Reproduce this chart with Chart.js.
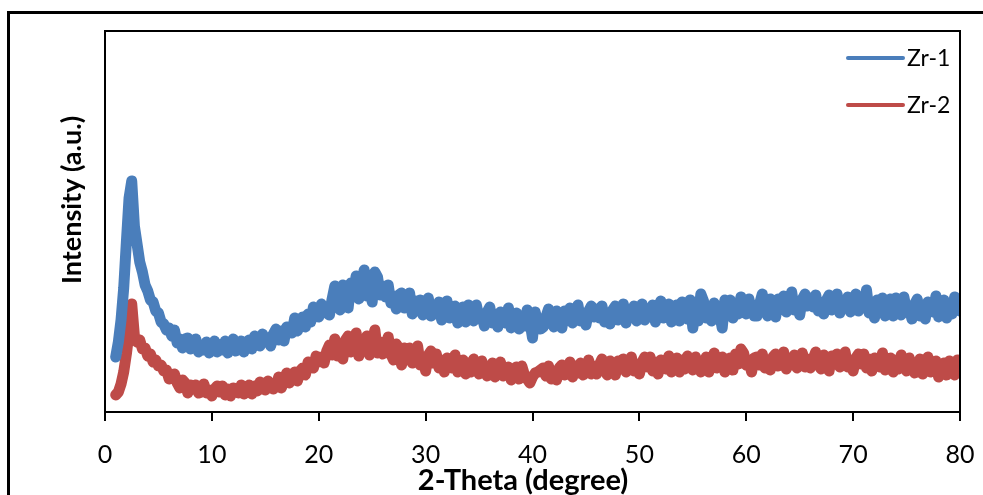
<!DOCTYPE html>
<html>
<head>
<meta charset="utf-8">
<title>XRD patterns Zr-1 / Zr-2</title>
<script src="https://cdn.jsdelivr.net/npm/chart.js@4.4.1/dist/chart.umd.min.js"></script>
<style>
  html, body { margin: 0; padding: 0; background: #fff; overflow: hidden; }
  #wrap { position: relative; width: 983px; height: 495px; }
  #frame {
    position: absolute; left: 7px; top: 11px; width: 1200px; height: 800px;
    border-left: 3px solid #000; border-top: 3px solid #000;
  }
  #chart { position: absolute; left: 0; top: 0; }
</style>
</head>
<body>
<div id="wrap">
  <div id="frame"></div>
  <canvas id="chart" width="983" height="495"></canvas>
</div>
<script>
// scan: 2-theta from 1 to 80 degrees, 0.25 degree step
const thetaStart = 1;
const thetaStep = 0.25;
const xTicks = [0, 10, 20, 30, 40, 50, 60, 70, 80];
const seriesNames = ['Zr-1', 'Zr-2'];
const seriesColors = ['#4a7ebb', '#be4b48'];
const xTitle = '2-Theta (degree)';
const yTitle = 'Intensity (a.u.)';

// intensity (a.u.), one row per 5 degrees
const zr1 = [
  55, 70, 92, 124, 170, 214, 231, 186, 168, 150, 140, 127, 121, 112, 110, 101, 99, 90, 88, 82,
  84, 76, 82, 69, 73, 64, 73, 74, 63, 65, 73, 60, 67, 62, 70, 59, 65, 71, 60, 67,
  62, 71, 59, 67, 73, 61, 65, 71, 60, 70, 72, 63, 76, 68, 66, 78, 70, 74, 66, 78,
  83, 72, 81, 71, 85, 83, 79, 94, 81, 87, 95, 85, 98, 90, 105, 97, 95, 108, 101, 99,
  97, 113, 126, 107, 102, 127, 124, 104, 129, 120, 136, 113, 119, 142, 116, 127, 110, 140, 135, 117,
  126, 115, 127, 109, 116, 103, 117, 119, 104, 107, 119, 98, 111, 101, 112, 97, 104, 114, 96, 105,
  98, 110, 92, 103, 111, 94, 99, 106, 89, 102, 105, 90, 107, 96, 91, 107, 94, 98, 86, 100,
  105, 89, 98, 85, 100, 95, 89, 104, 84, 90, 99, 83, 96, 86, 102, 91, 74, 100, 89, 83,
  85, 95, 103, 90, 85, 101, 98, 84, 101, 94, 104, 89, 93, 107, 91, 99, 87, 101, 106, 95,
  103, 94, 106, 90, 99, 88, 102, 106, 92, 96, 108, 89, 102, 95, 106, 91, 99, 108, 92, 101,
  95, 107, 90, 101, 111, 94, 99, 108, 90, 103, 107, 91, 110, 99, 93, 112, 84, 103, 91, 118,
  111, 94, 105, 91, 109, 104, 99, 84, 112, 102, 112, 94, 108, 98, 115, 103, 98, 113, 102, 96,
  96, 108, 118, 101, 96, 113, 111, 95, 113, 106, 116, 100, 103, 120, 102, 110, 97, 113, 118, 106,
  114, 105, 117, 101, 109, 98, 112, 117, 102, 106, 118, 99, 111, 104, 115, 100, 108, 118, 101, 110,
  104, 122, 99, 109, 94, 112, 106, 114, 96, 109, 113, 96, 114, 103, 97, 115, 101, 105, 93, 108,
  113, 96, 107, 93, 110, 105, 100, 116, 95, 102, 112, 94, 108, 98, 115, 103, 101
];

const zr2 = [
  17, 20, 28, 40, 58, 80, 108, 76, 70, 72, 63, 64, 56, 58, 50, 52, 46, 47, 41, 42,
  33, 36, 38, 29, 24, 32, 29, 19, 27, 23, 27, 19, 20, 28, 19, 22, 16, 23, 26, 20,
  26, 17, 23, 16, 24, 22, 19, 27, 18, 21, 27, 18, 26, 21, 30, 24, 22, 31, 25, 23,
  26, 35, 24, 32, 39, 29, 33, 40, 31, 41, 44, 37, 50, 45, 44, 56, 50, 55, 49, 61,
  67, 57, 73, 56, 66, 53, 72, 76, 60, 64, 79, 56, 71, 61, 76, 57, 68, 82, 59, 70,
  58, 67, 75, 58, 52, 68, 64, 47, 64, 56, 64, 49, 51, 66, 47, 55, 41, 57, 61, 49,
  58, 44, 52, 40, 54, 50, 44, 57, 40, 45, 52, 38, 49, 40, 53, 44, 38, 51, 41, 36,
  39, 49, 35, 44, 50, 36, 40, 45, 32, 43, 45, 33, 46, 37, 33, 29, 35, 39, 40, 42,
  44, 36, 46, 33, 41, 32, 44, 47, 37, 40, 50, 35, 46, 39, 49, 37, 44, 52, 38, 46,
  38, 47, 53, 41, 37, 51, 49, 37, 51, 45, 53, 40, 43, 55, 41, 48, 38, 50, 55, 45,
  55, 41, 50, 38, 52, 48, 43, 56, 40, 45, 54, 40, 52, 43, 56, 47, 42, 55, 45, 40,
  44, 55, 40, 50, 59, 44, 48, 55, 40, 52, 54, 42, 58, 48, 63, 59, 47, 51, 40, 54,
  55, 47, 58, 44, 52, 42, 55, 58, 46, 49, 60, 43, 54, 47, 57, 44, 51, 59, 45, 53,
  44, 53, 60, 47, 43, 57, 54, 41, 56, 50, 58, 45, 47, 60, 45, 52, 41, 54, 58, 48,
  58, 44, 53, 41, 54, 50, 45, 59, 42, 47, 54, 40, 52, 43, 57, 47, 41, 54, 44, 39,
  42, 53, 38, 48, 55, 40, 44, 51, 35, 47, 49, 37, 51, 41, 37, 52, 39
];

const toPoints = vals => vals.map((v, i) => ({ x: thetaStart + i * thetaStep, y: v }));

const FONT = 'Lato, "Open Sans", sans-serif';
Chart.defaults.font.family = FONT;
Chart.defaults.color = '#000';

// box around the plot area
const plotFrame = {
  id: 'plotFrame',
  afterDraw(chart) {
    const { ctx, chartArea: a } = chart;
    ctx.save();
    ctx.strokeStyle = '#000';
    ctx.lineWidth = 2;
    ctx.strokeRect(a.left, a.top, a.right - a.left, a.bottom - a.top);
    ctx.restore();
  }
};

// axis titles, placed by hand
const axisTitles = {
  id: 'axisTitles',
  afterDraw(chart) {
    const { ctx } = chart;
    ctx.save();
    ctx.fillStyle = '#000';
    ctx.textAlign = 'center';
    ctx.textBaseline = 'middle';
    ctx.font = 'bold 29px ' + FONT;
    ctx.fillText(xTitle, 523, 481);
    ctx.translate(72, 200);
    ctx.rotate(-Math.PI / 2);
    ctx.font = 'bold 27px ' + FONT;
    ctx.fillText(yTitle, 0, 0);
    ctx.restore();
  }
};

// legend drawn inside the plot, top right
const insideLegend = {
  id: 'insideLegend',
  afterDraw(chart) {
    const { ctx, chartArea: a } = chart;
    ctx.save();
    ctx.font = '23px ' + FONT;
    ctx.textBaseline = 'middle';
    chart.data.datasets.forEach((ds, i) => {
      const y = a.top + 27 + i * 47;
      const x0 = a.right - 112;
      ctx.strokeStyle = ds.borderColor;
      ctx.lineWidth = 4;
      ctx.lineCap = 'round';
      ctx.beginPath();
      ctx.moveTo(x0, y);
      ctx.lineTo(x0 + 55, y);
      ctx.stroke();
      ctx.fillStyle = '#000';
      ctx.fillText(ds.label, x0 + 59, y + 1);
    });
    ctx.restore();
  }
};

const lineStyle = {
  borderWidth: 11,
  pointRadius: 0,
  tension: 0,
  borderJoinStyle: 'round',
  borderCapStyle: 'round'
};

new Chart(document.getElementById('chart'), {
  type: 'line',
  data: {
    datasets: [
      { label: seriesNames[0], data: toPoints(zr1), borderColor: seriesColors[0], ...lineStyle },
      { label: seriesNames[1], data: toPoints(zr2), borderColor: seriesColors[1], ...lineStyle }
    ]
  },
  options: {
    responsive: false,
    animation: false,
    layout: { padding: { top: 31, right: 23, left: 0, bottom: 0 } },
    plugins: {
      legend: { display: false },
      tooltip: { enabled: false }
    },
    scales: {
      x: {
        type: 'linear',
        min: 0,
        max: 80,
        afterBuildTicks: scale => { scale.ticks = xTicks.map(v => ({ value: v })); },
        afterFit: scale => {
          scale.height = 83;
          scale.paddingLeft = 0;
          scale.paddingRight = 0;
        },
        border: { display: false },
        grid: {
          display: true,
          drawOnChartArea: false,
          drawTicks: true,
          tickLength: 9,
          color: '#000',
          lineWidth: 2
        },
        ticks: { font: { size: 25 }, padding: 19, maxRotation: 0, color: '#000' }
      },
      y: {
        min: 0,
        max: 381,
        afterFit: scale => { scale.width = 105; },
        border: { display: false },
        grid: { display: false },
        ticks: { display: false }
      }
    }
  },
  plugins: [plotFrame, axisTitles, insideLegend]
});
</script>
</body>
</html>
